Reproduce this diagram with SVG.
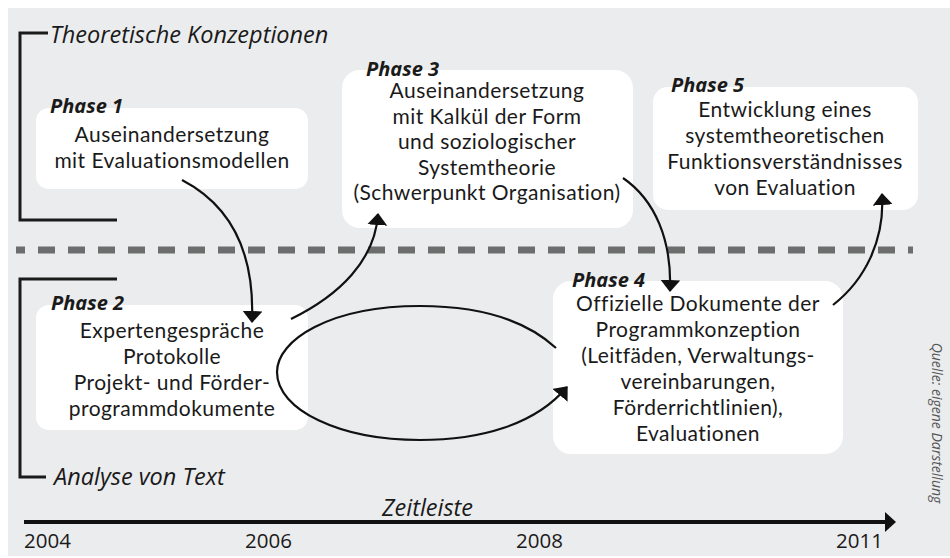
<svg xmlns="http://www.w3.org/2000/svg" width="950" height="558" viewBox="0 0 950 558">
<style>
.t{font-family:Lato,"Open Sans",sans-serif;font-size:21px;letter-spacing:0.45px;fill:#1a1a1a;text-anchor:middle}
.ph{font-family:"Open Sans",Lato,sans-serif;font-size:20px;font-weight:bold;font-style:italic;fill:#1a1a1a}
.it{font-family:"Open Sans",Lato,sans-serif;font-size:23.5px;font-style:italic;fill:#1a1a1a}
.yr{font-family:"Open Sans",Lato,sans-serif;font-size:20.5px;fill:#1a1a1a}
.box{fill:#ffffff}
.br{fill:none;stroke:#1a1a1a;stroke-width:3}
.c{fill:none;stroke:#111;stroke-width:2.2}
</style>
<defs>
<marker id="ah" viewBox="0 0 12 20" refX="11" refY="10" markerWidth="12" markerHeight="20" markerUnits="userSpaceOnUse" orient="auto">
<path d="M0,0 L12,10 L0,20 z" fill="#111"/>
</marker>
</defs>
<rect x="8" y="8" width="942" height="548" fill="#ebeced"/>
<g id="brackets">
<path class="br" d="M48,33 H20 V220 H117"/>
<path class="br" d="M117,279 H20 V477 H46"/>
<text class="it" x="50" y="43">Theoretische Konzeptionen</text>
<text class="it" x="54" y="485">Analyse von Text</text>
</g>
<line x1="16" y1="250" x2="913" y2="250" stroke="#6d6d6d" stroke-width="7" stroke-dasharray="17 13" stroke-dashoffset="8"/>
<g id="phase1">
<rect class="box" x="36" y="108" width="272" height="81" rx="13"/>
<text class="ph" x="50" y="113">Phase 1</text>
<text class="t" x="172" y="142">Auseinandersetzung</text>
<text class="t" x="172" y="168">mit Evaluationsmodellen</text>
</g>
<g id="phase2">
<rect class="box" x="36" y="305" width="272" height="125" rx="13"/>
<text class="ph" x="51" y="310">Phase 2</text>
<text class="t" x="172" y="338">Expertengespräche</text>
<text class="t" x="172" y="364">Protokolle</text>
<text class="t" x="172" y="390">Projekt- und Förder-</text>
<text class="t" x="172" y="416">programmdokumente</text>
</g>
<g id="phase3">
<rect class="box" x="342" y="70" width="291" height="158" rx="18"/>
<text class="ph" x="366" y="76">Phase 3</text>
<text class="t" x="487" y="98">Auseinandersetzung</text>
<text class="t" x="487" y="124">mit Kalkül der Form</text>
<text class="t" x="487" y="149">und soziologischer</text>
<text class="t" x="487" y="175">Systemtheorie</text>
<text class="t" x="487" y="200">(Schwerpunkt Organisation)</text>
</g>
<g id="phase4">
<rect class="box" x="553" y="281" width="290" height="173" rx="18"/>
<text class="ph" x="572" y="287">Phase 4</text>
<text class="t" x="698" y="311">Offizielle Dokumente der</text>
<text class="t" x="698" y="337">Programmkonzeption</text>
<text class="t" x="698" y="363">(Leitfäden, Verwaltungs-</text>
<text class="t" x="698" y="389">vereinbarungen,</text>
<text class="t" x="698" y="415">Förderrichtlinien),</text>
<text class="t" x="698" y="441">Evaluationen</text>
</g>
<g id="phase5">
<rect class="box" x="653" y="87" width="265" height="123" rx="15"/>
<text class="ph" x="671" y="92">Phase 5</text>
<text class="t" x="785" y="117">Entwicklung eines</text>
<text class="t" x="785" y="143">systemtheoretischen</text>
<text class="t" x="785" y="169">Funktionsverständnisses</text>
<text class="t" x="785" y="195">von Evaluation</text>
</g>
<g id="connectors">
<path class="c" marker-end="url(#ah)" d="M182,180 C230,205 255,250 252,322"/>
<path class="c" marker-end="url(#ah)" d="M291,319 C340,295 375,260 378,214"/>
<path class="c" marker-end="url(#ah)" d="M623,178 C655,200 672,240 670,291"/>
<path class="c" marker-end="url(#ah)" d="M833,305 C865,280 885,240 882,194"/>
<path class="c" marker-end="url(#ah)" d="M556,348 C520,315 470,306 420,306 C330,306 277,340 277,372 C277,410 340,440 420,440 C480,440 535,425 567,387"/>
</g>
<g id="timeline">
<line x1="24" y1="522" x2="888" y2="522" stroke="#111" stroke-width="4"/>
<path d="M885,512 L896,522 L885,532 z" fill="#111"/>
<text class="it" x="382" y="516">Zeitleiste</text>
<text class="yr" x="24" y="548">2004</text>
<text class="yr" x="245" y="548">2006</text>
<text class="yr" x="516" y="548">2008</text>
<text class="yr" x="836" y="548">2011</text>
</g>
<text x="936" y="423" transform="rotate(90 936 423)" text-anchor="middle" dominant-baseline="middle" font-family="'Open Sans',Lato,sans-serif" font-size="14" font-style="italic" fill="#555">Quelle: eigene Darstellung</text>
</svg>
